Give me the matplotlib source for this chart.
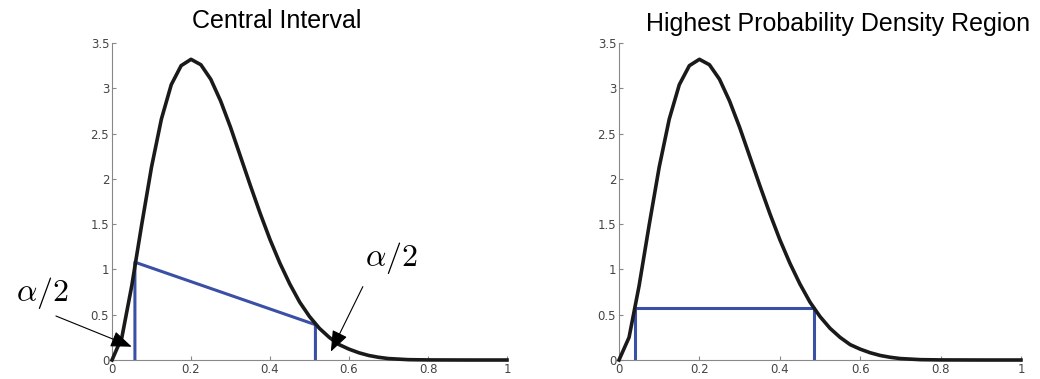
import matplotlib.pyplot as plt

plt.rcParams['mathtext.fontset'] = 'cm'

# density curve (same curve in both panels)
xs = [0, 0.025, 0.05, 0.075, 0.1, 0.125, 0.15, 0.175, 0.2, 0.225, 0.25, 0.275,
      0.3, 0.325, 0.35, 0.375, 0.4, 0.425, 0.45, 0.475, 0.5, 0.525, 0.55, 0.575,
      0.6, 0.625, 0.65, 0.675, 0.7, 0.75, 0.8, 0.9, 1.0]
ys = [0, 0.25, 0.82, 1.49, 2.13, 2.66, 3.04, 3.25, 3.32, 3.26, 3.10, 2.86,
      2.57, 2.25, 1.93, 1.62, 1.33, 1.07, 0.84, 0.64, 0.48, 0.35, 0.25, 0.17,
      0.12, 0.08, 0.05, 0.03, 0.016, 0.004, 0.001, 0.0, 0.0]

# central interval bounds
ci_x = [0.058, 0.058, 0.515, 0.515]
ci_y = [0, 1.08, 0.39, 0]
# HPD region bounds
hpd_x = [0.04, 0.04, 0.486, 0.486]
hpd_y = [0, 0.57, 0.57, 0]

yticks = [0, 0.5, 1, 1.5, 2, 2.5, 3, 3.5]
xticks = [0, 0.2, 0.4, 0.6, 0.8, 1]
blue = '#3a50a6'

fig = plt.figure(figsize=(10.4, 3.79), dpi=100)
ax1 = fig.add_axes([0.1077, 0.0501, 0.3798, 0.8364])
ax2 = fig.add_axes([0.5952, 0.0501, 0.3865, 0.8364])

for ax in (ax1, ax2):
    ax.set_xlim(0, 1)
    ax.set_ylim(0, 3.5)
    ax.set_xticks(xticks)
    ax.set_xticklabels(['0', '0.2', '0.4', '0.6', '0.8', '1'])
    ax.set_yticks(yticks)
    ax.set_yticklabels(['0', '0.5', '1', '1.5', '2', '2.5', '3', '3.5'])
    ax.spines['top'].set_visible(False)
    ax.spines['right'].set_visible(False)
    for s in ('left', 'bottom'):
        ax.spines[s].set_color('#888888')
        ax.spines[s].set_linewidth(0.8)
    ax.tick_params(direction='in', length=3, width=0.8, color='#888888',
                   labelsize=8.5, labelcolor='#444444', pad=2)
    ax.plot(xs, ys, color='#1a1a1a', lw=2.6, zorder=3, clip_on=False)

ax1.plot(ci_x, ci_y, color=blue, lw=2.2, zorder=2)
ax2.plot(hpd_x, hpd_y, color=blue, lw=2.2, zorder=2)

arrow = dict(arrowstyle='-|>,head_length=1.3,head_width=0.5', color='black',
             lw=0.8, shrinkA=0, shrinkB=0)
ax1.annotate('', xy=(0.05, 0.147), xytext=(-0.142, 0.486),
             arrowprops=arrow, annotation_clip=False)
ax1.annotate('', xy=(0.554, 0.092), xytext=(0.635, 0.81),
             arrowprops=arrow, annotation_clip=False)
ax1.text(-0.177, 0.74, r'$\alpha/2$', fontsize=23, ha='center', va='center')
ax1.text(0.708, 1.126, r'$\alpha/2$', fontsize=23, ha='center', va='center')

fig.text(277 / 1040, 1 - 21 / 379, 'Central Interval', fontsize=18,
         ha='center', va='center', family='Liberation Sans')
fig.text(838 / 1040, 1 - 24 / 379, 'Highest Probability Density Region',
         fontsize=18, ha='center', va='center', family='Liberation Sans')

fig.savefig('out.png', dpi=100)
